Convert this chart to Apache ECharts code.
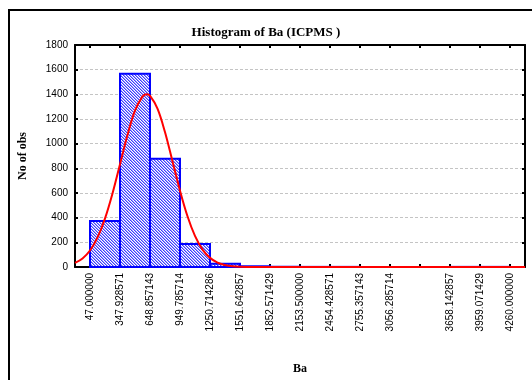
<!DOCTYPE html>
<html>
<head>
<meta charset="utf-8">
<script src="https://cdn.jsdelivr.net/npm/echarts@6/dist/echarts.min.js"></script>
<style>
  html, body { margin: 0; padding: 0; background: #fff; }
  #chart { width: 532px; height: 380px; }
</style>
</head>
<body>
<div id="chart"></div>
<script>
// Histogram bins for Ba (ICPMS): 14 bins from 47 to 4260
const binStart = 47.0;
const binWidth = 300.928571;
const binCounts = [372, 1567, 878, 186, 26, 6, 2, 1, 1, 0, 0, 0, 1, 1];

// Bin edge tick positions and their printed labels (3357.214286 carries a tick but no label)
const tickValues = [47.0, 347.928571, 648.857143, 949.785714, 1250.714286, 1551.642857,
  1852.571429, 2153.5, 2454.428571, 2755.357143, 3056.285714, 3357.214286,
  3658.142857, 3959.071429, 4260.0];
const tickLabels = ['47.000000', '347.928571', '648.857143', '949.785714', '1250.714286',
  '1551.642857', '1852.571429', '2153.500000', '2454.428571', '2755.357143',
  '3056.285714', '', '3658.142857', '3959.071429', '4260.000000'];

// Fitted normal curve, sampled along Ba
const curveX = [-103.5, -28, 47, 122, 197, 272, 348, 423, 498, 573, 615, 648, 724, 799,
  874, 950, 1025, 1100, 1176, 1251, 1326, 1401, 1477, 1552, 1702, 2000, 4410.5];
const curveY = [33, 69, 134, 238, 392, 594, 833, 1070, 1267, 1382, 1400, 1389, 1284, 1094,
  858, 618, 411, 252, 141, 74, 35, 16, 6, 2, 0, 0, 0];

const yTicks = [0, 200, 400, 600, 800, 1000, 1200, 1400, 1600, 1800];

const xMin = binStart - binWidth / 2;
const xMax = tickValues[tickValues.length - 1] + binWidth / 2;

// Fine diagonal blue hatch tile for the bars (SVG data URL, 3x3 px)
function hatchTile() {
  let s = '<svg xmlns="http://www.w3.org/2000/svg" width="3" height="3">' +
    '<rect width="3" height="3" fill="#ffffff"/>';
  for (let i = 0; i < 3; i++) {
    s += '<rect x="' + i + '" y="' + i + '" width="1" height="1" fill="#3c3cff"/>';
    s += '<rect x="' + ((i + 1) % 3) + '" y="' + i + '" width="1" height="1" fill="#a0a0ff"/>';
  }
  return s + '</svg>';
}
const hatchImg = new Image();
hatchImg.src = 'data:image/svg+xml;charset=utf-8,' + encodeURIComponent(hatchTile());

const binData = binCounts.map((v, i) => [binStart + i * binWidth, binStart + (i + 1) * binWidth, v]);
const curveData = curveX.map((x, i) => [x, curveY[i]]);

const axisLine = { show: true, onZero: false, lineStyle: { color: '#000', width: 2 } };
const tickStyle = { show: true, inside: true, length: 3, lineStyle: { color: '#000', width: 2 } };

function draw() {
  const chart = echarts.init(document.getElementById('chart'), null, { renderer: 'canvas' });
  chart.setOption({
    animation: false,
    backgroundColor: '#fff',
    title: {
      text: 'Histogram of Ba (ICPMS )',
      left: 'center',
      top: 21,
      textStyle: { fontFamily: 'Liberation Serif', fontWeight: 'bold', fontSize: 13, color: '#000' }
    },
    graphic: [{
      type: 'rect',
      shape: { x: 9, y: 10, width: 560, height: 420 },
      style: { fill: null, stroke: '#000', lineWidth: 2 },
      silent: true
    }],
    grid: { left: 75, top: 45, right: 7, bottom: 104 },
    xAxis: [{
      type: 'value',
      min: xMin,
      max: xMax,
      position: 'bottom',
      name: 'Ba',
      nameLocation: 'middle',
      nameGap: 96,
      nameTextStyle: { fontFamily: 'Liberation Serif', fontWeight: 'bold', fontSize: 12, color: '#000' },
      axisLine: axisLine,
      axisTick: Object.assign({}, tickStyle, { customValues: tickValues }),
      axisLabel: {
        customValues: tickValues,
        rotate: 90,
        margin: 6,
        fontFamily: 'Liberation Sans',
        fontSize: 10,
        color: '#000',
        formatter: (v) => {
          const i = tickValues.findIndex(t => Math.abs(t - v) < 0.01);
          return i >= 0 ? tickLabels[i] : '';
        }
      },
      splitLine: { show: false }
    }, {
      type: 'value',
      min: xMin,
      max: xMax,
      position: 'top',
      axisLine: axisLine,
      axisTick: Object.assign({}, tickStyle, { customValues: tickValues }),
      axisLabel: { show: false },
      splitLine: { show: false }
    }],
    yAxis: [{
      type: 'value',
      min: 0,
      max: 1800,
      interval: 200,
      name: 'No of obs',
      nameLocation: 'middle',
      nameGap: 46,
      nameTextStyle: { fontFamily: 'Liberation Serif', fontWeight: 'bold', fontSize: 12, color: '#000' },
      axisLine: axisLine,
      axisTick: tickStyle,
      axisLabel: {
        customValues: yTicks,
        margin: 7,
        fontFamily: 'Liberation Sans',
        fontSize: 10,
        color: '#000',
        formatter: (v) => String(v)
      },
      splitLine: { show: true, lineStyle: { color: '#c4c4c4', type: [3, 2], width: 1 } }
    }, {
      type: 'value',
      min: 0,
      max: 1800,
      interval: 200,
      position: 'right',
      axisLine: axisLine,
      axisTick: tickStyle,
      axisLabel: { show: false },
      splitLine: { show: false }
    }],
    series: [{
      type: 'custom',
      xAxisIndex: 0,
      yAxisIndex: 0,
      data: binData,
      z: 2,
      renderItem: function (params, api) {
        const v = api.value(2);
        if (v <= 0) return null;
        const p0 = api.coord([api.value(0), v]);
        const p1 = api.coord([api.value(1), 0]);
        return {
          type: 'rect',
          shape: { x: p0[0], y: p0[1], width: p1[0] - p0[0], height: p1[1] - p0[1] },
          style: { fill: { image: hatchImg, repeat: 'repeat' }, stroke: '#0000ff', lineWidth: 2 }
        };
      }
    }, {
      type: 'line',
      xAxisIndex: 0,
      yAxisIndex: 0,
      data: curveData,
      smooth: 0.35,
      symbol: 'none',
      z: 3,
      lineStyle: { color: '#ff0000', width: 2 }
    }]
  });
}

if (hatchImg.complete) draw(); else { hatchImg.onload = draw; hatchImg.onerror = draw; }
</script>
</body>
</html>
